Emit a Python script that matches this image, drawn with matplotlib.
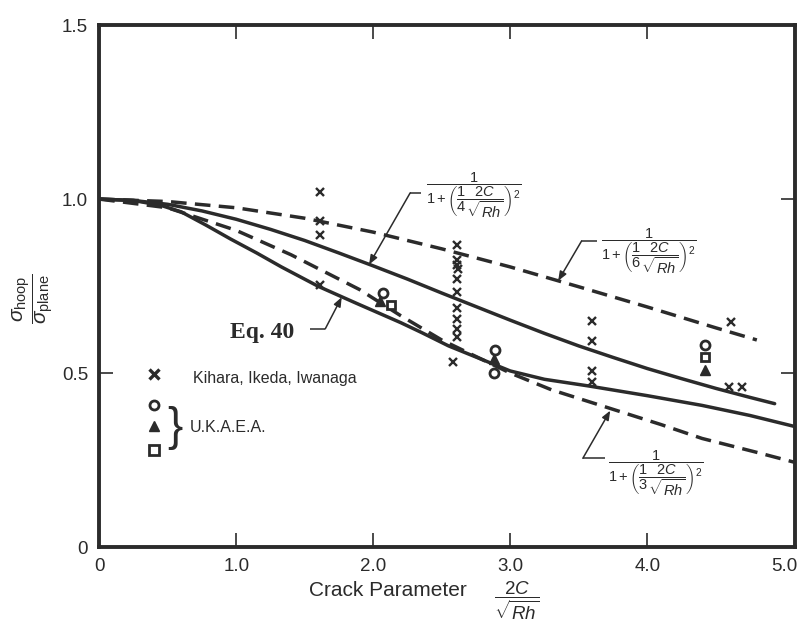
import matplotlib
matplotlib.use('Agg')
import matplotlib.pyplot as plt

plt.rcParams['font.family'] = ['Liberation Sans', 'DejaVu Sans']
plt.rcParams['mathtext.fontset'] = 'custom'
plt.rcParams['mathtext.rm'] = 'Liberation Sans'
plt.rcParams['mathtext.it'] = 'Liberation Sans:italic'
plt.rcParams['mathtext.bf'] = 'Liberation Sans:bold'
plt.rcParams['mathtext.sf'] = 'Liberation Sans'

INK = '#2b2b2b'

# ---------------- data ----------------
# Eq. 40 (solid, lower)
eq40_x = [0, 0.25, 0.45, 0.6, 0.78, 0.96, 1.15, 1.33, 1.6, 1.88, 2.2, 2.35, 2.55, 2.85, 3.0, 3.25, 3.57, 4.0, 4.4, 4.75, 5.08]
eq40_y = [1.0, 0.996, 0.982, 0.963, 0.925, 0.885, 0.845, 0.805, 0.749, 0.70, 0.645, 0.617, 0.578, 0.53, 0.506, 0.482, 0.463, 0.435, 0.407, 0.378, 0.346]

# 1 / (1 + ((1/4) 2C/sqrt(Rh))^2)  (solid, upper)
k4_x = [0, 0.25, 0.5, 0.75, 1.0, 1.25, 1.5, 1.75, 2.0, 2.25, 2.5, 2.75, 3.0, 3.25, 3.5, 3.75, 4.0, 4.25, 4.5, 4.75, 4.93]
k4_y = [1.0, 0.996, 0.985, 0.966, 0.942, 0.913, 0.881, 0.845, 0.808, 0.770, 0.730, 0.691, 0.652, 0.614, 0.578, 0.545, 0.513, 0.484, 0.456, 0.430, 0.412]

# 1 / (1 + ((1/6) 2C/sqrt(Rh))^2)  (dashed, top)
k6_x = [0, 0.5, 1.0, 1.5, 2.0, 2.5, 3.0, 3.5, 4.0, 4.5, 4.8]
k6_y = [1.0, 0.993, 0.975, 0.945, 0.905, 0.857, 0.805, 0.748, 0.690, 0.630, 0.595]

# 1 / (1 + ((1/3) 2C/sqrt(Rh))^2)  (dashed, lower)
k3_x = [0, 0.5, 1.0, 1.4, 1.9, 2.2, 2.5, 3.0, 3.3, 3.7, 4.1, 4.4, 4.8, 5.08]
k3_y = [1.0, 0.975, 0.91, 0.84, 0.74, 0.665, 0.595, 0.50, 0.452, 0.402, 0.352, 0.312, 0.272, 0.243]

# Kihara, Ikeda, Iwanaga (x markers)
kih_x = [1.61, 1.61, 1.61, 1.61, 2.61, 2.61, 2.61, 2.62, 2.61, 2.61, 2.61, 2.61, 2.61, 2.61, 2.58,
         3.60, 3.60, 3.60, 3.60, 4.61, 4.60, 4.69]
kih_y = [1.02, 0.937, 0.897, 0.754, 0.867, 0.824, 0.81, 0.80, 0.769, 0.732, 0.686, 0.654, 0.628, 0.605, 0.533,
         0.651, 0.593, 0.507, 0.473, 0.648, 0.461, 0.461]

# U.K.A.E.A.
ukc_x = [2.07, 2.89, 2.88, 4.42]
ukc_y = [0.731, 0.565, 0.50, 0.58]
ukt_x = [2.05, 2.88, 4.42]
ukt_y = [0.708, 0.539, 0.51]
uks_x = [2.13, 4.42]
uks_y = [0.695, 0.546]

x_ticks = [0, 1, 2, 3, 4, 5]
x_ticklabels = ['0', '1.0', '2.0', '3.0', '4.0', '5.0']
y_ticks = [0, 0.5, 1.0, 1.5]
y_ticklabels = ['0', '0.5', '1.0', '1.5']

# ---------------- figure ----------------
fig = plt.figure(figsize=(8, 6.25), dpi=100)
ax = fig.add_axes([0.124, 0.1248, 0.87, 0.835])
ax.set_xlim(0, 5.08)
ax.set_ylim(0, 1.5)

lw = 2.5
dash = (0, (4.5, 2.4))
ax.plot(k6_x, k6_y, color=INK, lw=lw, ls=dash, zorder=2)
ax.plot(k3_x, k3_y, color=INK, lw=lw, ls=dash, zorder=2)
ax.plot(k4_x, k4_y, color=INK, lw=lw, zorder=3, solid_capstyle='round', solid_joinstyle='round')
ax.plot(eq40_x, eq40_y, color=INK, lw=lw, zorder=3, solid_capstyle='round', solid_joinstyle='round')

ax.plot(kih_x, kih_y, ls='none', marker='x', ms=5.5, mew=1.7, color=INK, zorder=4)
ax.plot(ukc_x, ukc_y, ls='none', marker='o', ms=6.5, mew=2.0, mfc='white', mec=INK, zorder=5)
ax.plot(ukt_x, ukt_y, ls='none', marker='^', ms=7, mew=1.0, mfc=INK, mec=INK, zorder=5)
ax.plot(uks_x, uks_y, ls='none', marker='s', ms=6, mew=2.0, mfc='white', mec=INK, zorder=5)

# legend (drawn in place)
ax.plot([0.40], [0.497], marker='x', ms=7, mew=2.4, color=INK, ls='none')
ax.text(0.685, 0.485, 'Kihara, Ikeda, Iwanaga', fontsize=11.5, color=INK, va='center', ha='left')
ax.plot([0.40], [0.408], marker='o', ms=6.5, mew=2.0, mfc='white', mec=INK, ls='none')
ax.plot([0.40], [0.347], marker='^', ms=7.5, mew=1.0, mfc=INK, mec=INK, ls='none')
ax.plot([0.40], [0.278], marker='s', ms=6.5, mew=2.0, mfc='white', mec=INK, ls='none')
ax.text(0.50, 0.343, '}', fontsize=33, color=INK, va='center', ha='left',
        family='Liberation Sans', fontweight='light')
ax.text(0.66, 0.343, 'U.K.A.E.A.', fontsize=11.5, color=INK, va='center', ha='left')

# formula labels with leaders
fs = 10.5
lab4 = r'$\dfrac{1}{1+\left(\dfrac{1}{4}\dfrac{2C}{\sqrt{Rh}}\right)^2}$'
lab6 = r'$\dfrac{1}{1+\left(\dfrac{1}{6}\dfrac{2C}{\sqrt{Rh}}\right)^2}$'
lab3 = r'$\dfrac{1}{1+\left(\dfrac{1}{3}\dfrac{2C}{\sqrt{Rh}}\right)^2}$'
ax.text(2.73, 1.011, lab4, fontsize=fs, color=INK, ha='center', va='center')
ax.text(4.01, 0.848, lab6, fontsize=fs, color=INK, ha='center', va='center')
ax.text(4.06, 0.21, lab3, fontsize=fs, color=INK, ha='center', va='center')


def leader(pts, tip):
    xs = [p[0] for p in pts]
    ys = [p[1] for p in pts]
    ax.plot(xs, ys, color=INK, lw=1.1, zorder=4, solid_capstyle='butt')
    ax.annotate('', xy=tip, xytext=pts[-1],
                arrowprops=dict(arrowstyle='-|>,head_length=0.55,head_width=0.22',
                                color=INK, lw=1.1, shrinkA=0, shrinkB=0), zorder=4)


leader([(2.35, 1.018), (2.27, 1.018)], (1.97, 0.812))
leader([(3.63, 0.879), (3.52, 0.879)], (3.35, 0.765))
leader([(3.69, 0.255), (3.53, 0.255)], (3.73, 0.392))
leader([(1.54, 0.627), (1.65, 0.627)], (1.77, 0.718))

ax.text(1.19, 0.617, 'Eq. 40', fontsize=17, fontweight='bold', color=INK,
        family='Liberation Serif', ha='center', va='center')

# axes styling
for s in ax.spines.values():
    s.set_linewidth(2.8)
    s.set_color(INK)
ax.set_xticks(x_ticks)
ax.set_xticklabels(x_ticklabels)
ax.set_yticks(y_ticks)
ax.set_yticklabels(y_ticklabels)
ax.tick_params(direction='in', length=10, width=1.2, color=INK, top=True, right=True,
               labelsize=13.5, labelcolor=INK, pad=8)
for i, t in enumerate(ax.xaxis.get_major_ticks()):
    if i in (0, len(x_ticks) - 1):
        t.tick1line.set_visible(False)
        t.tick2line.set_visible(False)
for i, t in enumerate(ax.yaxis.get_major_ticks()):
    if i in (0, len(y_ticks) - 1):
        t.tick1line.set_visible(False)
        t.tick2line.set_visible(False)

fig.text(0.485, 0.056, 'Crack Parameter', fontsize=15, color=INK, ha='center', va='center')
fig.text(0.646, 0.039, r'$\dfrac{2C}{\sqrt{Rh}}$', fontsize=13.5, color=INK, ha='center', va='center')
fig.text(0.042, 0.523, r'$\dfrac{\sigma_{\mathrm{hoop}}}{\sigma_{\mathrm{plane}}}$', fontsize=15,
         color=INK, ha='center', va='center', rotation=90)

fig.savefig('out.png', dpi=100)
